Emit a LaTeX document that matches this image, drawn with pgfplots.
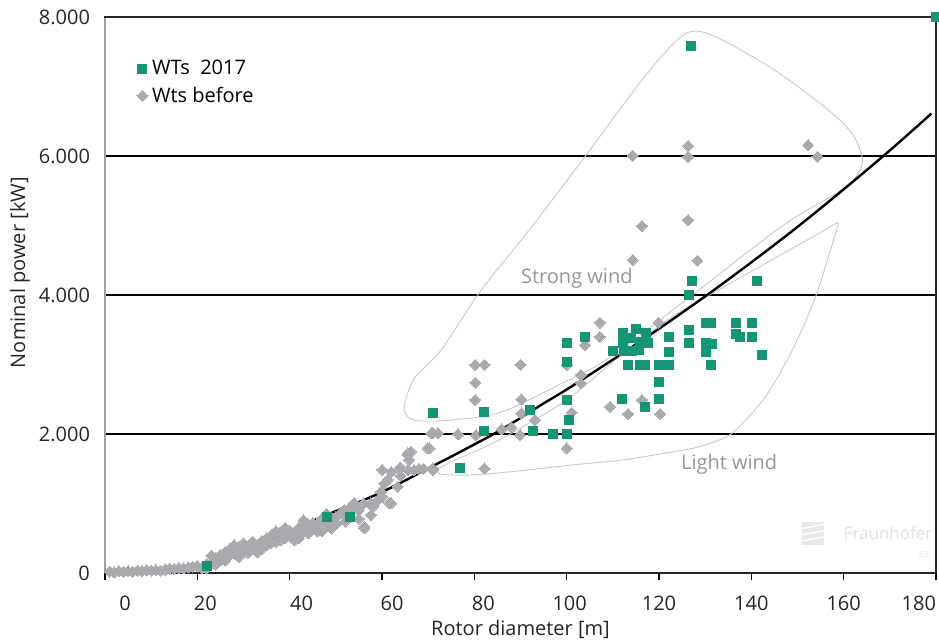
\documentclass[border=0pt]{standalone}
\usepackage{fontspec}
\setmainfont{Open Sans}
\usepackage{pgfplots}
\pgfplotsset{compat=1.18}
\definecolor{wtgreen}{RGB}{20,150,118}
\definecolor{wtgrey}{RGB}{168,170,173}
\definecolor{shapegrey}{RGB}{200,200,200}
\definecolor{labgrey}{RGB}{150,150,150}
\definecolor{leftaxis}{RGB}{160,160,160}

\pgfplotstableread{
x y
1 20
2 10
3 25
4 15
5 30
6 20
7 35
8 25
9 40
10 35
11 45
12 35
13 50
14 60
15 55
16 70
17 65
18 80
19 90
20 100
21 70
22 130
22 60
23 150
23 250
24 220
24 120
25 180
25 260
26 300
26 180
27 250
27 340
28 280
28 400
29 380
29 230
30 320
30 430
31 380
31 290
32 340
32 450
33 400
33 300
34 460
34 350
35 500
35 400
36 540
36 430
37 450
37 600
38 560
38 470
39 500
39 650
40 610
40 530
41 470
41 560
42 650
42 500
43 760
43 600
44 570
44 700
45 650
45 720
46 600
46 700
47 780
47 600
48 700
48 850
49 640
49.6 715
50 800
50 700
51 860
51.8 906
52 830
52 740
53.3 954
53 860
54 1007
55 900
55 780
56.2 643
56.2 666
56 1000
57.6 835
57.6 1003
58 950
59.1 1050
59.8 1170
60 1100
60.1 1482
60.5 1290
61.2 1338
61.6 1007
62 1003
62 1450
63.4 1242
63.8 1510
64.1 1506
64 1400
65.6 1482
65.9 1626
65.6 1698
66.3 1746
65.6 1722
67 1480
68 1500
69 1500
69.9 1794
70.3 1794
70.7 2010
71 2010
72.1 2010
71 1482
71 1506
76.5 1995
80.4 1985
82.2 1506
80.2 2993
82.2 2993
90 2993
80.2 2738
80.2 2489
90.2 2499
90.2 2298
93.1 2201
85.9 2067
88 2096
89.9 1985
100 1794
100 2993
103.1 2849
103.1 2729
101.1 2307
104 3280
107.2 3602
107.2 3400
109.4 2393
113.3 2288
116.3 2489
119.9 3602
120.3 2288
114.3 4503
128.3 4493
116.3 4993
126.3 5079
114.3 6004
126.3 6148
126.3 5990
152.3 6158
154.3 5990
}\wtsbefore

\pgfplotstableread{
x y
22 100
48 801
53 801
71 2298
77 1506
82.2 2321
82.2 2048
92 2345
92.8 2048
97.1 1995
100 1995
100 3305
100 3040
100 2489
100.4 2201
104 3400
110.1 3194
112.2 3449
115.1 3506
117.2 3449
112.2 3314
114 3377
115.9 3328
117.6 3305
112.5 3194
114.1 3194
115.6 3208
113.3 2993
115.9 2993
117 2993
120.1 2993
122.1 2993
122.1 3400
122.1 3184
119.9 2753
119.9 2499
112 2499
117 2393
127.2 4201
126.4 4000
141.3 4201
130.2 3602
131.3 3602
136.6 3602
140.2 3602
126.5 3497
136.6 3439
137.5 3400
140.2 3400
126.5 3305
130.1 3305
131.5 3295
130.1 3184
142.4 3137
131.2 2993
127 7580
180 8000
}\wts

\pgfplotstableread{
x y
2 5
10 25
20 100
25 190
30 310
35 460
40 600
45 750
50 890
55 1020
60 1165
65 1330
70 1505
75 1675
80 1850
85 2030
90 2230
95 2440
100 2640
110 3070
120 3515
130 3980
140 4470
150 4980
160 5520
170 6080
179 6610
}\trend

\begin{document}
\begin{tikzpicture}
\begin{axis}[
  scale only axis,
  width=415.5pt, height=278pt,
  xmin=0, xmax=180, ymin=0, ymax=8000,
  xtick={0,20,40,60,80,100,120,140,160,180},
  xticklabels={\hspace*{20pt}0,\hspace*{8pt}20,\hspace*{12pt}40,\hspace*{10pt}60,\hspace*{9pt}80,\hspace*{3pt}100,120,140,160,\makebox[0pt][r]{180}},
  ytick={0,2000,4000,6000,8000},
  yticklabels={0,2.000,4.000,6.000,8.000},
  /pgf/number format/assume math mode=true,
  tick label style={font=\fontsize{10}{12}\selectfont, text=black!85},
  axis line style={black!85, line width=0.7pt},
  ymajorgrids,
  major grid style={black, line width=0.75pt},
  xtick pos=left, ytick pos=left,
  xtick style={black, line width=0.6pt},
  ytick style={black, line width=0.75pt},
  major tick length=3.5pt,
  xtick align=outside, ytick align=inside,
  yticklabel style={xshift=-4pt},
  xticklabel style={yshift=-4.5pt},
  xlabel={Rotor diameter [m]},
  ylabel={Nominal power [kW]},
  label style={font=\fontsize{10}{12}\selectfont, text=black!85},
  xlabel style={at={(axis description cs:0.5,0)}, anchor=center, yshift=-28pt},
  ylabel style={at={(axis description cs:0,0.54)}, anchor=center, yshift=42.5pt},
  clip=false,
  legend style={at={(0.038,0.93)}, anchor=north west, draw=none, fill=none,
    font=\fontsize{10}{12}\selectfont, row sep=0.5pt, inner sep=0pt},
  legend cell align=left,
  reverse legend,
]
\coordinate (SW) at (rel axis cs:0,0);
\coordinate (NW) at (rel axis cs:0,1);
\coordinate (NE) at (rel axis cs:1,1);

% x tick marks (outside, below the axis)
\draw[black, line width=0.6pt] (axis cs:0,0) -- ++(0,-3.5pt);
\draw[black, line width=0.6pt] (axis cs:20,0) -- ++(0,-3.5pt);
\draw[black, line width=0.6pt] (axis cs:40,0) -- ++(0,-3.5pt);
\draw[black, line width=0.6pt] (axis cs:60,0) -- ++(0,-3.5pt);
\draw[black, line width=0.6pt] (axis cs:80,0) -- ++(0,-3.5pt);
\draw[black, line width=0.6pt] (axis cs:100,0) -- ++(0,-3.5pt);
\draw[black, line width=0.6pt] (axis cs:120,0) -- ++(0,-3.5pt);
\draw[black, line width=0.6pt] (axis cs:140,0) -- ++(0,-3.5pt);
\draw[black, line width=0.6pt] (axis cs:160,0) -- ++(0,-3.5pt);
\draw[black, line width=0.6pt] (axis cs:180,0) -- ++(0,-3.5pt);

% regions
\addplot[forget plot, shapegrey, line width=0.45pt, smooth cycle, tension=0.5] coordinates {
(65.6,2249) (64.8,2400) (67,2800) (72.8,3209) (81.5,4072) (92.4,4978) (103.9,5985)
(116.3,7093) (123.9,7669) (128,7798) (133.7,7669) (145,7237) (156.7,6662) (162,6302)
(164.1,5942) (162.6,5698) (158.9,5482) (146.7,4993) (125,3885) (109.1,3089)
(100.4,2777) (85.9,2316) (75,2201) (68,2190)};
\addplot[forget plot, shapegrey, line width=0.45pt, smooth cycle, tension=0.45] coordinates {
(72,1482) (75,1600) (85.9,1930) (100.2,2500) (112,3150) (122,3650) (132.2,4047)
(146.7,4590) (155,4900) (158.7,5036) (158.3,4900) (153.9,3971) (148.9,3209)
(143,2532) (135.9,2014) (129.3,1827) (122.8,1740) (112,1626) (101.1,1554)
(90,1470) (79.3,1410) (73,1420)};

\node[labgrey, font=\fontsize{10}{12}\selectfont] at (axis cs:102.2,4244) {Strong wind};
\node[labgrey, font=\fontsize{10}{12}\selectfont] at (axis cs:135.2,1568) {Light wind};

% watermark
\fill[black!9] (axis cs:151,400) rectangle (axis cs:155.8,740);
\draw[white, line width=0.6pt] (axis cs:151,460) -- (axis cs:155.8,520);
\draw[white, line width=0.6pt] (axis cs:151,550) -- (axis cs:155.8,610);
\draw[white, line width=0.6pt] (axis cs:151,640) -- (axis cs:155.8,700);
\node[black!12, font=\fontsize{8.5}{10}\selectfont, anchor=east, inner sep=0pt] at (axis cs:179.3,580) {Fraunhofer};
\node[black!12, font=\fontsize{4}{5}\selectfont, anchor=east, inner sep=0pt] at (axis cs:178.8,260) {ISE};

% trend line
\addplot[forget plot, black, line width=1.2pt, smooth] table[x=x, y=y] {\trend};

\addplot[only marks, mark=square*, mark size=1.95pt, mark options={rotate=45, fill=wtgrey, draw=wtgrey, line width=0pt}] table[x=x, y=y] {\wtsbefore};
\addlegendentry{Wts before}
\addplot[only marks, mark=square*, mark size=2.25pt, mark options={fill=wtgreen, draw=wtgreen, line width=0pt}] table[x=x, y=y] {\wts};
\addlegendentry{WTs\ \ 2017}
\end{axis}
\draw[white, line width=1.2pt] ([yshift=1pt]SW) -- ([yshift=-1pt]NW);
\draw[leftaxis, line width=0.8pt] ([yshift=0.35pt]SW) -- ([yshift=-0.4pt]NW);
\pgfresetboundingbox
\path[use as bounding box] ([xshift=-52.5pt,yshift=-34pt]SW) rectangle ([xshift=1.5pt,yshift=8.5pt]NE);
\end{tikzpicture}
\end{document}
